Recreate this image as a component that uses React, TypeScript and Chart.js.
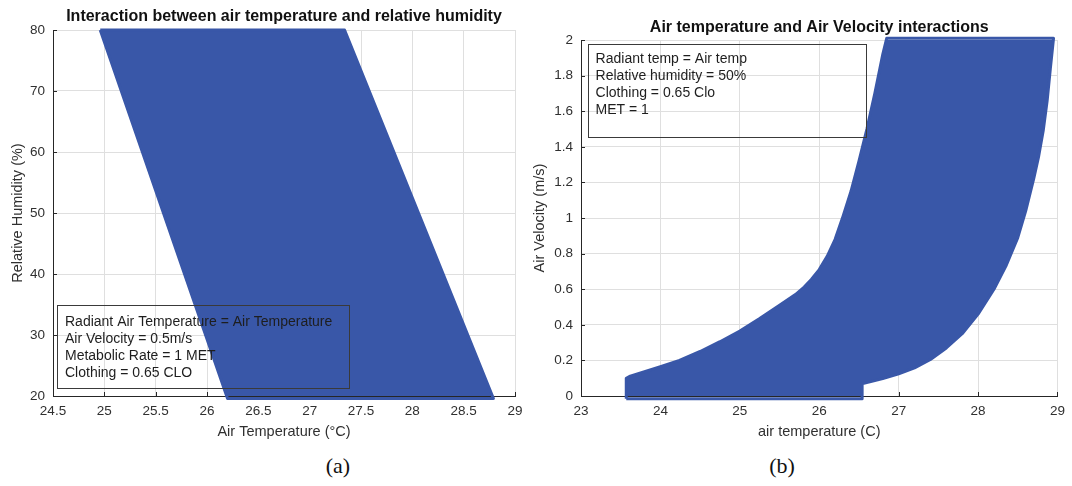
import { useEffect, useRef } from "react";
import { Chart, registerables } from "chart.js";

Chart.register(...registerables);
Chart.defaults.font.family = '"Liberation Sans", Arial, Helvetica, sans-serif';

// ---- Panel (a): air temperature vs relative humidity ----
const tempTicksA = [24.5, 25, 25.5, 26, 26.5, 27, 27.5, 28, 28.5, 29];
const humidityTicks = [20, 30, 40, 50, 60, 70, 80];
// corners of the comfortable region (temperature °C, humidity %)
const bandATemp = [24.96, 27.34, 28.79, 26.2];
const bandAHumidity = [80, 80, 19.6, 19.6];
const notesA = [
  "Radiant Air Temperature = Air Temperature",
  "Air Velocity = 0.5m/s",
  "Metabolic Rate = 1 MET",
  "Clothing = 0.65 CLO",
];

// ---- Panel (b): air temperature vs air velocity ----
const tempTicksB = [23, 24, 25, 26, 27, 28, 29];
const velocityTicks = [0, 0.2, 0.4, 0.6, 0.8, 1, 1.2, 1.4, 1.6, 1.8, 2];
// cool-side edge, from the bottom-left corner up to the top
const coolEdgeTemp = [
  23.57, 23.57, 23.62, 23.8, 24.0, 24.24, 24.5, 24.75, 25.0, 25.25, 25.5, 25.7,
  25.81, 25.9, 26.0, 26.1, 26.2, 26.3, 26.4, 26.5, 26.6, 26.7, 26.8, 26.85,
];
const coolEdgeSpeed = [
  -0.015, 0.1, 0.112, 0.137, 0.165, 0.2, 0.25, 0.305, 0.365, 0.435, 0.51, 0.57,
  0.612, 0.655, 0.71, 0.785, 0.88, 1.01, 1.15, 1.32, 1.5, 1.7, 1.92, 2.01,
];
// warm-side edge, from the top-right corner down to the floor
const warmEdgeTemp = [
  28.95, 28.91, 28.87, 28.82, 28.76, 28.7, 28.6, 28.5, 28.35, 28.2, 28.0, 27.8,
  27.6, 27.4, 27.2, 27.0, 26.8, 26.56, 26.54, 26.54,
];
const warmEdgeSpeed = [
  2.01, 1.84, 1.66, 1.49, 1.34, 1.22, 1.04, 0.89, 0.73, 0.6, 0.46, 0.35,
  0.27, 0.205, 0.158, 0.125, 0.098, 0.071, 0.071, -0.015,
];
const notesB = [
  "Radiant temp = Air temp",
  "Relative humidity = 50%",
  "Clothing = 0.65 Clo",
  "MET = 1",
];

const FILL = "#3957a8";
const AXIS = "#262626";
const GRID = "#dfdfdf";
const TEXT = "#303030";

type Pt = { x: number; y: number };

function zip(xs: number[], ys: number[]): Pt[] {
  return xs.map((x, i) => ({ x, y: ys[i] }));
}

function closed(points: Pt[]): Pt[] {
  return [...points, points[0]];
}

const fmt = (v: number) => String(Number(v.toFixed(1)));

type NoteBox = { x: number; y: number; w: number; h: number; textX: number; firstY: number; step: number };

function decorations(notes: string[], box: NoteBox) {
  return {
    id: "panelDecor",
    beforeDatasetsDraw(chart: any) {
      const { ctx, chartArea } = chart;
      const xs = chart.scales.x;
      const ys = chart.scales.y;
      ctx.save();
      ctx.strokeStyle = AXIS;
      ctx.lineWidth = 1;
      ctx.beginPath();
      xs.ticks.forEach((t: any) => {
        const px = Math.round(xs.getPixelForValue(t.value)) + 0.5;
        ctx.moveTo(px, chartArea.bottom);
        ctx.lineTo(px, chartArea.bottom - 4);
      });
      ys.ticks.forEach((t: any) => {
        const py = Math.round(ys.getPixelForValue(t.value)) + 0.5;
        ctx.moveTo(chartArea.left, py);
        ctx.lineTo(chartArea.left + 4, py);
      });
      ctx.stroke();
      ctx.restore();
    },
    afterDatasetsDraw(chart: any) {
      const { ctx, chartArea } = chart;
      ctx.save();
      ctx.strokeStyle = "#3a3a3a";
      ctx.lineWidth = 1;
      ctx.strokeRect(
        Math.round(chartArea.left + box.x) + 0.5,
        Math.round(chartArea.top + box.y) + 0.5,
        Math.round(box.w),
        Math.round(box.h)
      );
      ctx.fillStyle = "#1e1e1e";
      ctx.font = '14px "Liberation Sans", Arial, sans-serif';
      ctx.textBaseline = "middle";
      ctx.textAlign = "left";
      notes.forEach((line, i) => {
        ctx.fillText(line, chartArea.left + box.textX, chartArea.top + box.firstY + i * box.step);
      });
      ctx.restore();
    },
  };
}

type PanelSpec = {
  title: string;
  titlePad: { top: number; bottom: number };
  xTitle: string;
  yTitle: string;
  yTitlePad: number;
  xMin: number;
  xMax: number;
  yMin: number;
  yMax: number;
  xTicks: number[];
  yTicks: number[];
  yWidth: number;
  padRight: number;
  points: Pt[];
  notes: string[];
  box: NoteBox;
};

function makeConfig(p: PanelSpec): any {
  return {
    type: "line",
    data: {
      datasets: [
        {
          data: p.points,
          fill: "shape",
          backgroundColor: FILL,
          borderColor: FILL,
          borderWidth: 3,
          borderJoinStyle: "round",
          pointRadius: 0,
          tension: 0,
          clip: false,
        },
      ],
    },
    options: {
      responsive: false,
      animation: false,
      layout: { padding: { left: 0, right: p.padRight, top: 0, bottom: 0 } },
      plugins: {
        legend: { display: false },
        tooltip: { enabled: false },
        title: {
          display: true,
          text: p.title,
          fullSize: false,
          color: "#111111",
          font: { size: 16, weight: "bold" },
          padding: p.titlePad,
        },
      },
      scales: {
        x: {
          type: "linear",
          min: p.xMin,
          max: p.xMax,
          afterBuildTicks: (axis: any) => {
            axis.ticks = p.xTicks.map((value) => ({ value }));
          },
          afterFit: (scale: any) => {
            scale.height = 54;
          },
          grid: { color: GRID, lineWidth: 1, drawTicks: false },
          border: { color: AXIS, width: 1 },
          ticks: {
            padding: 7,
            color: TEXT,
            font: { size: 13.5 },
            maxRotation: 0,
            autoSkip: false,
            callback: (v: any) => fmt(Number(v)),
          },
          title: {
            display: true,
            text: p.xTitle,
            color: TEXT,
            font: { size: 14.5 },
            padding: { top: 0, bottom: 9.3 },
          },
        },
        y: {
          type: "linear",
          min: p.yMin,
          max: p.yMax,
          afterBuildTicks: (axis: any) => {
            axis.ticks = p.yTicks.map((value) => ({ value }));
          },
          afterFit: (scale: any) => {
            scale.width = p.yWidth;
          },
          grid: { color: GRID, lineWidth: 1, drawTicks: false },
          border: { color: AXIS, width: 1 },
          ticks: {
            padding: 8,
            color: TEXT,
            font: { size: 13.5 },
            autoSkip: false,
            callback: (v: any) => fmt(Number(v)),
          },
          title: {
            display: true,
            text: p.yTitle,
            color: TEXT,
            font: { size: 14.5 },
            padding: { top: p.yTitlePad, bottom: 0 },
          },
        },
      },
    },
    plugins: [decorations(p.notes, p.box)],
  };
}

const panelA: PanelSpec = {
  title: "Interaction between air temperature and relative humidity",
  titlePad: { top: 6.7, bottom: 4.1 },
  xTitle: "Air Temperature (°C)",
  yTitle: "Relative Humidity (%)",
  yTitlePad: 9.3,
  xMin: 24.5,
  xMax: 29,
  yMin: 20,
  yMax: 80,
  xTicks: tempTicksA,
  yTicks: humidityTicks,
  yWidth: 53,
  padRight: 20,
  points: closed(zip(bandATemp, bandAHumidity)),
  notes: notesA,
  box: { x: 3.5, y: 275, w: 291.5, h: 83, textX: 12, firstY: 291.7, step: 17.1 },
};

const panelB: PanelSpec = {
  title: "Air temperature and Air Velocity interactions",
  titlePad: { top: 18.4, bottom: 2.4 },
  xTitle: "air temperature (C)",
  yTitle: "Air Velocity (m/s)",
  yTitlePad: 5.8,
  xMin: 23,
  xMax: 29,
  yMin: 0,
  yMax: 2,
  xTicks: tempTicksB,
  yTicks: velocityTicks,
  yWidth: 56,
  padRight: 10,
  points: closed([...zip(coolEdgeTemp, coolEdgeSpeed), ...zip(warmEdgeTemp, warmEdgeSpeed)]),
  notes: notesB,
  box: { x: 7, y: 4, w: 278, h: 92.7, textX: 14.6, firstY: 19.3, step: 16.9 },
};

function Panel({ spec, left, width }: { spec: PanelSpec; left: number; width: number }) {
  const ref = useRef<HTMLCanvasElement | null>(null);
  useEffect(() => {
    if (!ref.current) return;
    const chart = new Chart(ref.current, makeConfig(spec));
    return () => chart.destroy();
  }, [spec]);
  return (
    <canvas
      ref={ref}
      width={width}
      height={450}
      style={{ position: "absolute", left, top: 0 }}
    />
  );
}

const captionStyle = (center: number): any => ({
  position: "absolute",
  left: center - 30,
  width: 60,
  top: 453,
  textAlign: "center",
  fontFamily: '"Liberation Serif", "Times New Roman", serif',
  fontSize: 22,
  lineHeight: "26px",
  color: "#111",
});

export default function App() {
  return (
    <div
      style={{
        position: "absolute",
        left: 0,
        top: 0,
        width: 1072,
        height: 486,
        background: "#ffffff",
        overflow: "hidden",
      }}
    >
      <Panel spec={panelA} left={0} width={535} />
      <Panel spec={panelB} left={525} width={547} />
      <div style={captionStyle(338)}>(a)</div>
      <div style={captionStyle(782)}>(b)</div>
    </div>
  );
}
